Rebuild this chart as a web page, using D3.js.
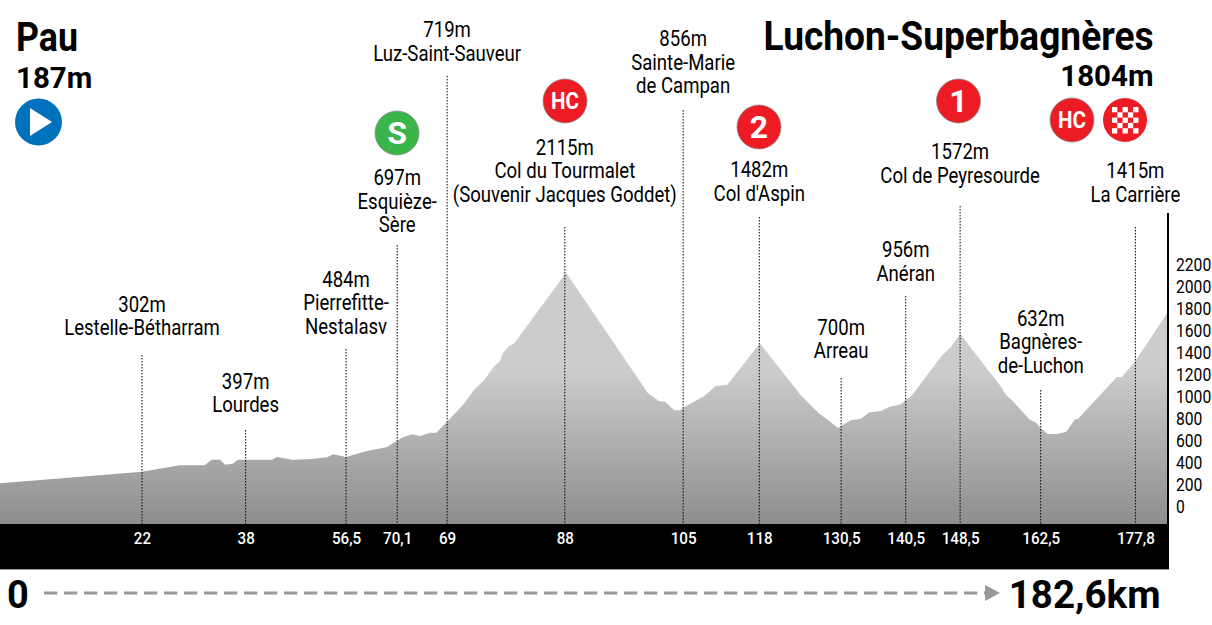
<!DOCTYPE html>
<html>
<head>
<meta charset="utf-8">
<script src="https://cdn.jsdelivr.net/npm/d3@7"></script>
<style>
  html, body { margin: 0; padding: 0; background: #fff; }
  svg { display: block; }
  text { font-family: Roboto, sans-serif; fill: #000; }
</style>
</head>
<body>
<div id="chart"></div>
<script>
const profileKm = [0, 22.2, 28.1, 32, 33.1, 34.4, 35.2, 36.4, 37.2, 42.5, 43.3, 45.7, 48.8, 51.1, 52.1, 54.1, 57.2, 60.5, 62.1, 63, 64.4, 65.7, 67.2, 68.2, 69.9, 72.5, 74.1, 75.7, 77.2, 78.2, 78.6, 79.6, 80.4, 88.5, 101.3, 103, 104, 105.4, 106.3, 106.8, 110.1, 111.9, 113.7, 118.8, 125.2, 128, 129.8, 131, 133, 134.6, 135.9, 137.7, 139.1, 140.9, 141.6, 142.4, 147.1, 148.7, 150.1, 156.3, 157.3, 158.2, 160.9, 162, 162.7, 163.8, 165.2, 166.7, 168.1, 168.5, 174.6, 175.4, 177.6, 182.6];
const profileM = [202, 307, 365, 365, 416, 416, 371, 380, 416, 416, 441, 416, 423, 438, 465, 441, 493, 532, 589, 620, 647, 632, 662, 662, 762, 923, 1050, 1141, 1262, 1316, 1384, 1450, 1475, 2116, 1020, 950, 944, 865, 865, 889, 995, 1086, 1098, 1475, 1002, 838, 762, 705, 775, 789, 847, 859, 898, 920, 962, 989, 1353, 1444, 1559, 1095, 1005, 959, 784, 753, 702, 650, 650, 671, 786, 786, 1168, 1168, 1323, 1762];

const placeNames = [
  ['Lestelle-Bétharram'], ['Lourdes'], ['Pierrefitte-', 'Nestalasv'], ['Esquièze-', 'Sère'],
  ['Luz-Saint-Sauveur'], ['Col du Tourmalet', '(Souvenir Jacques Goddet)'], ['Sainte-Marie', 'de Campan'],
  ["Col d'Aspin"], ['Arreau'], ['Anéran'], ['Col de Peyresourde'], ['Bagnères-', 'de-Luchon'], ['La Carrière']
];
const placeHeights = ['302m', '397m', '484m', '697m', '719m', '2115m', '856m', '1482m', '700m', '956m', '1572m', '632m', '1415m'];
const placeKm = [22.2, 38.4, 54.1, 62.1, 69.9, 88.3, 106.8, 118.7, 131.5, 141.6, 150.1, 162.7, 177.5];
const placeKmLabels = ['22', '38', '56,5', '70,1', '69', '88', '105', '118', '130,5', '140,5', '148,5', '162,5', '177,8'];
const stemTopM = [1368, 686, 1423, 2368, 3905, 2532, 3595, 2623, 1159, 1905, 2723, 1050, 2532];

const elevationTicks = d3.range(0, 2201, 200);
const startName = 'Pau', startHeight = '187m';
const finishName = 'Luchon-Superbagnères', finishHeight = '1804m';
const totalKm = '182,6km';

const width = 1212, height = 625;
const plotRight = 1168, bandTop = 524, bandBottom = 569;
const squeeze = 0.864;
// space between a stem's top and the last line of its label
const labelGap = [20, 18, 15, 13, 15, 25, 17, 16, 20, 15, 23, 17.5, 25];

const x = d3.scaleLinear().domain([0, 182.6]).range([0, plotRight]);
const y = d3.scaleLinear().domain([0, 2200]).range([505.5, 263.5]);

const svg = d3.select('#chart').append('svg').attr('width', width).attr('height', height);

const grad = svg.append('defs').append('linearGradient')
  .attr('id', 'relief').attr('gradientUnits', 'userSpaceOnUse')
  .attr('x1', 0).attr('x2', 0).attr('y1', 370).attr('y2', bandTop);
grad.append('stop').attr('offset', 0).attr('stop-color', '#cccccc');
grad.append('stop').attr('offset', 1).attr('stop-color', '#8e8e8e');

const area = d3.area().x(d => x(d[0])).y0(bandTop).y1(d => y(d[1]));
svg.append('path')
  .datum(d3.zip(profileKm, profileM))
  .attr('d', area)
  .attr('fill', 'url(#relief)');

// dotted stems, one per place
svg.append('g').selectAll('line').data(placeKm).join('line')
  .attr('x1', d => x(d)).attr('x2', d => x(d))
  .attr('y1', (d, i) => y(stemTopM[i])).attr('y2', bandTop)
  .attr('stroke', '#000').attr('stroke-width', 1).attr('stroke-dasharray', '1.5,1.5');

// black band with km labels
svg.append('rect').attr('x', 0).attr('y', bandTop).attr('width', plotRight + 1).attr('height', bandBottom - bandTop).attr('fill', '#000');
svg.append('line').attr('x1', 0).attr('x2', plotRight + 1).attr('y1', bandBottom + 0.5).attr('y2', bandBottom + 0.5).attr('stroke', '#999');

const kmAxis = d3.axisBottom(x).tickValues(placeKm).tickSize(0).tickFormat((d, i) => placeKmLabels[i]);
const kmG = svg.append('g').attr('transform', `translate(0,${bandTop})`).call(kmAxis);
kmG.select('.domain').remove();
kmG.selectAll('text').attr('y', 14.5).attr('dy', 0)
  .attr('dominant-baseline', 'central')
  .attr('transform', 'scale(0.95,1)')
  .style('fill', '#fff').style('font-size', '16px').style('font-weight', 500).style('font-family', 'Roboto, sans-serif');

// right elevation axis
const elevAxis = d3.axisRight(y).tickValues(elevationTicks).tickSize(0).tickFormat(d3.format('d'));
const elevG = svg.append('g').attr('transform', `translate(${plotRight + 8},0)`).call(elevAxis);
elevG.select('.domain').remove();
elevG.selectAll('text').attr('x', 0).attr('dy', '0.4em')
  .attr('transform', 'scale(0.87,1)')
  .style('font-size', '18px').style('font-family', 'Roboto, sans-serif');
svg.append('line').attr('x1', plotRight).attr('x2', plotRight).attr('y1', 213).attr('y2', bandBottom - 45)
  .attr('stroke', '#000').attr('stroke-width', 2);

// place labels sit above their stems
const labels = svg.append('g').selectAll('g').data(placeKm).join('g')
  .attr('transform', (d, i) => `translate(${x(d)},${y(stemTopM[i]) - labelGap[i]}) scale(${squeeze},1)`);
labels.each(function (d, i) {
  const lines = [placeHeights[i]].concat(placeNames[i]);
  d3.select(this).selectAll('text').data(lines).join('text')
    .attr('text-anchor', 'middle')
    .attr('y', (t, j) => (j - lines.length + 1) * 23.5)
    .style('font-size', '21.5px')
    .text(t => t);
});

// titles
function bold(str, px, bx, by, anchor, len) {
  const t = svg.append('text').attr('x', bx).attr('y', by)
    .attr('text-anchor', anchor).style('font-size', px + 'px').style('font-weight', 700).text(str);
  if (len) t.attr('textLength', len).attr('lengthAdjust', 'spacingAndGlyphs');
  return t;
}
bold(startName, 40, 16, 51, 'start', 62);
bold(startHeight, 29.5, 16, 88, 'start');
bold(finishName, 40, 1153.5, 50, 'end', 390);
bold(finishHeight, 29.5, 1153.5, 86, 'end');
bold('0', 38, 7, 608, 'start');
bold(totalKm, 38.5, 1160.5, 608, 'end');

// badges
const badges = [
  { cx: 38.5, cy: 122, r: 23.5, fill: '#0071bc', stroke: 'none' },
  { cx: 397, cy: 133, r: 22, fill: '#39b54a', stroke: '#888', label: 'S' },
  { cx: 565, cy: 101, r: 22, fill: '#ed1c24', stroke: '#888', label: 'HC' },
  { cx: 759, cy: 127, r: 22, fill: '#ed1c24', stroke: '#888', label: '2' },
  { cx: 958.5, cy: 101, r: 22, fill: '#ed1c24', stroke: '#888', label: '1' },
  { cx: 1072, cy: 120, r: 22, fill: '#ed1c24', stroke: '#888', label: 'HC' },
  { cx: 1125, cy: 120, r: 22, fill: '#ed1c24', stroke: 'none' }
];
svg.append('g').selectAll('circle').data(badges).join('circle')
  .attr('cx', d => d.cx).attr('cy', d => d.cy).attr('r', d => d.r)
  .attr('fill', d => d.fill).attr('stroke', d => d.stroke).attr('stroke-width', 0.75);
svg.append('g').selectAll('text').data(badges.filter(d => d.label)).join('text')
  .attr('x', d => d.cx).attr('y', d => d.cy).attr('text-anchor', 'middle').attr('dominant-baseline', 'central')
  .attr('textLength', d => d.label === 'HC' ? 28 : null)
  .attr('lengthAdjust', 'spacingAndGlyphs')
  .style('fill', '#fff').style('font-weight', 700).style('font-size', d => d.label === 'HC' ? '24px' : '32px')
  .text(d => d.label);
svg.append('path').attr('d', d3.line()([[30, 108], [30, 136], [52, 122]]) + 'Z').attr('fill', '#fff');

const cell = 5.3, checkX = 1112, checkY = 107;
const cells = d3.cross(d3.range(5), d3.range(5)).filter(d => (d[0] + d[1]) % 2 === 0);
svg.append('g').selectAll('rect').data(cells).join('rect')
  .attr('x', d => checkX + d[0] * cell).attr('y', d => checkY + d[1] * cell)
  .attr('width', cell).attr('height', cell).attr('fill', '#fff');

// distance arrow
svg.append('line').attr('x1', 44).attr('x2', 985).attr('y1', 593).attr('y2', 593)
  .attr('stroke', '#999').attr('stroke-width', 3).attr('stroke-dasharray', '13.3,6.7');
svg.append('path').attr('d', d3.line()([[985, 585], [985, 601], [1000, 593]]) + 'Z').attr('fill', '#999');
</script>
</body>
</html>
